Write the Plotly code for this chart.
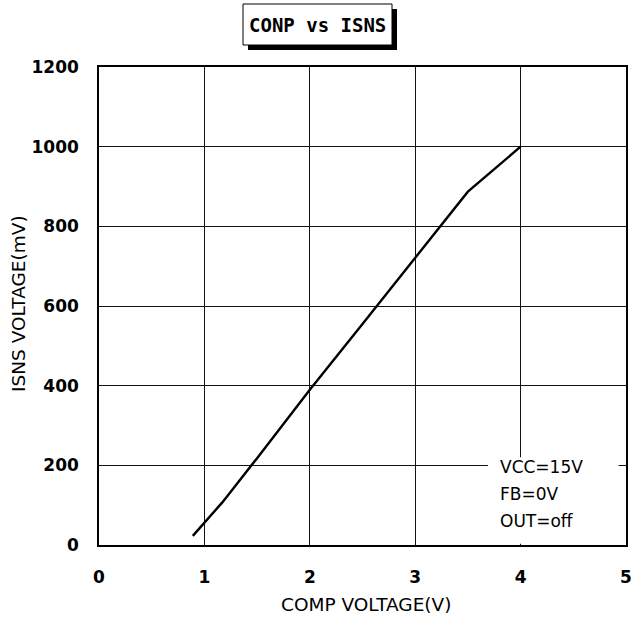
import plotly.graph_objects as go

comp_v = [0.89, 1.0, 1.17, 1.5, 2.0, 2.5, 3.0, 3.5, 4.0]
isns_mv = [23, 57, 107, 218, 390, 555, 720, 887, 1000]

x_ticks = [0, 1, 2, 3, 4, 5]
y_ticks = [0, 200, 400, 600, 800, 1000, 1200]

title_text = "CONP vs ISNS"
x_title = "COMP VOLTAGE(V)"
y_title = "ISNS VOLTAGE(mV)"
cond_lines = ["VCC=15V", "FB=0V", "OUT=off"]

W, H = 631, 618
# plot area in page pixels
X0P, X1P, Y0P, Y1P = 99, 626, 67, 545
L, R, T, B = X0P, W - X1P, Y0P, H - Y1P
pw, ph = W - L - R, H - T - B

def px(xp):
    return (xp - L) / pw

def py(yp):
    return (H - B - yp) / ph

fig = go.Figure()
fig.add_trace(go.Scatter(x=comp_v, y=isns_mv, mode="lines",
                         line=dict(color="black", width=2.4), showlegend=False,
                         hoverinfo="skip"))

tickfont = dict(family="DejaVu Sans, sans-serif", size=17, color="black", weight="bold")
titlefont = dict(family="DejaVu Sans, sans-serif", size=18.5, color="black")

fig.update_xaxes(range=[0, 5], tickvals=x_ticks, ticktext=[str(v) for v in x_ticks],
                 showgrid=True, gridcolor="#111", gridwidth=1,
                 showline=True, linecolor="black", linewidth=1.5, mirror=True,
                 zeroline=False, ticks="", ticklabelstandoff=16,
                 ticklabeloverflow="allow", automargin=False,
                 tickfont=tickfont)
fig.update_yaxes(range=[0, 1200], tickvals=y_ticks, ticktext=[str(v) for v in y_ticks],
                 showgrid=True, gridcolor="#111", gridwidth=1,
                 showline=True, linecolor="black", linewidth=1.5, mirror=True,
                 zeroline=False, ticks="", ticklabelstandoff=15,
                 ticklabeloverflow="allow", automargin=False,
                 tickfont=tickfont)

shapes = []
# white patch behind conditions text (covers gridlines, under trace)
shapes.append(dict(type="rect", xref="x", yref="y", x0=3.69, x1=4.93, y0=3, y1=220,
                   fillcolor="white", line=dict(width=0), layer="between"))
# title box shadow and box
shapes.append(dict(type="rect", xref="paper", yref="paper",
                   x0=px(248), x1=px(397), y0=py(50), y1=py(9),
                   fillcolor="black", line=dict(width=0), layer="above"))
shapes.append(dict(type="rect", xref="paper", yref="paper",
                   x0=px(243), x1=px(392), y0=py(45), y1=py(4),
                   fillcolor="white", line=dict(color="black", width=1), layer="above"))

annotations = [dict(text=title_text, xref="paper", yref="paper", x=px(317), y=py(25),
                    xanchor="center", yanchor="middle", showarrow=False,
                    font=dict(family="DejaVu Sans Mono, monospace", size=19, color="black", weight="bold")),
               dict(text=x_title, xref="paper", yref="paper", x=px(366), y=py(604),
                    xanchor="center", yanchor="middle", showarrow=False, font=titlefont),
               dict(text=y_title, xref="paper", yref="paper", x=px(18), y=py(304),
                    xanchor="center", yanchor="middle", showarrow=False, textangle=-90,
                    font=titlefont)]
for i, t in enumerate(cond_lines):
    annotations.append(dict(text=t, xref="paper", yref="paper", x=px(498), y=py(467 + 27 * i),
                            xanchor="left", yanchor="middle", showarrow=False,
                            font=dict(family="DejaVu Sans, sans-serif", size=17, color="black")))

fig.update_layout(width=W, height=H, margin=dict(l=L, r=R, t=T, b=B, autoexpand=False),
                  paper_bgcolor="white", plot_bgcolor="white",
                  shapes=shapes, annotations=annotations, showlegend=False)

fig.write_html("out.html", config={"displayModeBar": False},
               post_script="document.body.style.margin='0px';")
